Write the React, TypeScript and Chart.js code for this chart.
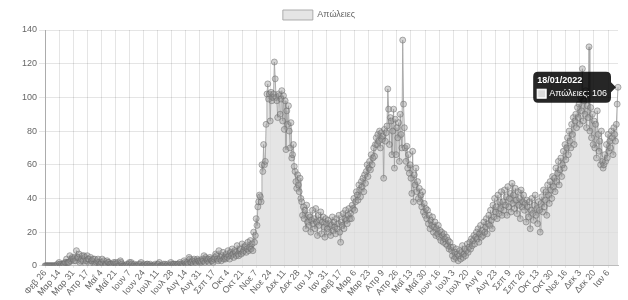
import { useEffect, useRef } from 'react';
import { Chart, registerables } from 'chart.js';

Chart.register(...registerables);

const SERIES_LABEL = 'Απώλειες';
const START_UTC = Date.UTC(2020, 1, 26);
const MONTHS = ['Ιαν', 'Φεβ', 'Μαρ', 'Απρ', 'Μαΐ', 'Ιουν', 'Ιουλ', 'Αυγ', 'Σεπ', 'Οκτ', 'Νοε', 'Δεκ'];
const LABEL_STEP = 17;
const Y_MIN = 0;
const Y_MAX = 140;
const Y_STEP = 20;

// Daily deaths, Feb 26 2020 – Dec 31 2020
const deaths2020 = [
  // Feb 26-29
  0, 0, 0, 0,
  // Mar
  0, 0, 0, 0, 0, 0, 0, 0, 0, 0, 0, 1, 0, 2, 1, 0, 1, 0, 1, 1, 2, 2, 4, 2, 2, 2, 6, 3, 4, 5, 4,
  // Apr
  3, 5, 3, 9, 5, 5, 7, 2, 3, 4, 6, 3, 6, 5, 1, 3, 6, 4, 4, 1, 5, 3, 3, 4, 1, 4, 1, 2, 3, 4,
  // May
  2, 1, 1, 2, 4, 1, 3, 0, 1, 1, 3, 2, 2, 1, 1, 1, 0, 1, 2, 1, 2, 1, 0, 2, 0, 0, 3, 2, 1, 0, 0,
  // Jun
  0, 0, 0, 1, 0, 1, 2, 0, 2, 1, 0, 0, 1, 0, 0, 0, 0, 1, 0, 1, 2, 0, 0, 0, 1, 0, 0, 1, 1, 0,
  // Jul
  0, 1, 0, 0, 0, 0, 0, 1, 0, 0, 1, 1, 2, 0, 0, 0, 0, 1, 0, 1, 0, 0, 1, 0, 0, 0, 2, 1, 0, 1, 1,
  // Aug
  0, 1, 0, 1, 1, 0, 2, 1, 0, 1, 0, 3, 2, 1, 0, 2, 1, 5, 4, 2, 2, 3, 1, 4, 3, 2, 1, 4, 3, 3, 2,
  // Sep
  3, 2, 4, 3, 6, 2, 5, 4, 3, 4, 2, 5, 4, 3, 3, 2, 4, 5, 7, 6, 4, 3, 9, 4, 5, 3, 6, 8, 4, 5,
  // Oct
  4, 7, 5, 9, 6, 4, 8, 6, 10, 7, 5, 9, 8, 6, 12, 7, 6, 9, 10, 7, 13, 8, 9, 11, 12, 8, 10, 14, 9, 11, 15,
  // Nov
  10, 13, 9, 20, 14, 18, 28, 24, 35, 38, 42, 41, 38, 60, 56, 72, 60, 62, 84, 102, 108, 99, 102, 86, 103, 98, 100, 102, 121, 111,
  // Dec
  100, 98, 88, 102, 101, 90, 99, 104, 86, 101, 81, 98, 69, 92, 84, 95, 80, 70, 85, 64, 66, 72, 59, 56, 50, 46, 54, 48, 44, 52, 40,
];

// Daily deaths, 2021
const deaths2021 = [
  // Jan
  38, 30, 35, 28, 33, 22, 36, 26, 30, 24, 29, 20, 27, 33, 25, 28, 22, 34, 26, 18, 30, 24, 27, 32, 19, 26, 29, 23, 17, 28, 25,
  // Feb
  22, 27, 20, 25, 18, 24, 29, 21, 26, 23, 19, 28, 22, 25, 30, 20, 14, 26, 24, 31, 22, 28, 33, 27, 25, 30, 34, 28,
  // Mar
  31, 28, 36, 34, 40, 33, 38, 44, 42, 39, 48, 45, 41, 50, 47, 52, 44, 54, 49, 56, 60, 53, 58, 62, 57, 66, 60, 64, 70, 65, 72,
  // Apr
  76, 72, 78, 74, 80, 70, 79, 75, 77, 52, 81, 74, 79, 83, 105, 93, 72, 88, 86, 66, 80, 93, 58, 87, 66, 82, 76, 85, 62, 90,
  // May
  78, 70, 134, 96, 82, 70, 62, 71, 58, 66, 55, 60, 52, 43, 68, 38, 54, 48, 58, 44, 50, 40, 46, 38, 42, 35, 44, 32, 37, 30, 34,
  // Jun
  28, 33, 25, 30, 22, 27, 24, 29, 20, 23, 26, 18, 22, 19, 24, 17, 21, 15, 20, 18, 14, 19, 16, 13, 17, 12, 15, 10, 14, 11,
  // Jul
  9, 6, 11, 4, 8, 5, 10, 7, 3, 6, 9, 4, 8, 12, 5, 7, 10, 6, 9, 13, 8, 11, 14, 10, 16, 12, 15, 18, 13, 17, 20,
  // Aug
  16, 22, 14, 19, 24, 17, 21, 18, 26, 20, 23, 28, 19, 25, 30, 24, 33, 27, 22, 36, 29, 40, 32, 35, 28, 42, 31, 38, 34, 44, 30,
  // Sep
  38, 33, 45, 36, 41, 30, 47, 35, 40, 43, 32, 49, 37, 42, 34, 46, 39, 31, 44, 36, 40, 28, 45, 35, 38, 42, 33, 37, 26, 39,
  // Oct
  35, 29, 38, 22, 33, 40, 31, 27, 36, 42, 30, 34, 25, 38, 33, 20, 37, 41, 32, 45, 35, 39, 44, 30, 48, 42, 37, 50, 45, 40, 53,
  // Nov
  47, 52, 44, 58, 50, 55, 62, 48, 57, 64, 53, 60, 68, 58, 72, 63, 70, 76, 66, 80, 74, 70, 84, 78, 88, 72, 86, 90, 82, 94,
  // Dec
  88, 96, 84, 100, 92, 117, 86, 98, 90, 104, 82, 95, 88, 130, 80, 94, 76, 90, 72, 86, 70, 84, 64, 92, 78, 68, 74, 60, 80, 62, 58,
];

// Daily deaths, Jan 1 – Jan 18 2022
const deaths2022 = [60, 66, 62, 72, 64, 78, 68, 74, 70, 80, 76, 66, 82, 78, 74, 84, 96, 106];

const values: number[] = [...deaths2020, ...deaths2021, ...deaths2022];

const dates: Date[] = values.map((_, i) => new Date(START_UTC + i * 86400000));
const labels: string[] = dates.map((d) => `${MONTHS[d.getUTCMonth()]} ${d.getUTCDate()}`);

const pad2 = (n: number) => (n < 10 ? '0' + n : '' + n);
const fullDate = (d: Date) => `${pad2(d.getUTCDate())}/${pad2(d.getUTCMonth() + 1)}/${d.getUTCFullYear()}`;

const FONT = "'Liberation Sans', Arial, Helvetica, sans-serif";

export default function App() {
  const ref = useRef<HTMLCanvasElement>(null);

  useEffect(() => {
    if (!ref.current) return;
    Chart.defaults.font.family = FONT;
    Chart.defaults.color = '#666';
    const chart = new Chart(ref.current, {
      type: 'line',
      data: {
        labels,
        datasets: [
          {
            label: SERIES_LABEL,
            data: values,
            fill: 'origin',
            backgroundColor: 'rgba(220,220,220,0.75)',
            borderColor: 'rgba(165,165,165,0.9)',
            borderWidth: 1,
            tension: 0,
            pointRadius: 3,
            pointBackgroundColor: 'rgba(150,150,150,0.4)',
            pointBorderColor: 'rgba(105,105,105,0.5)',
            pointBorderWidth: 1,
          },
        ],
      },
      options: {
        responsive: false,
        animation: false,
        layout: { padding: { left: 20, right: 10, top: 2, bottom: 2 } },
        plugins: {
          legend: {
            labels: {
              boxWidth: 30,
              boxHeight: 10,
              padding: 8,
              font: { size: 9, family: FONT },
              color: '#666',
            },
          },
          tooltip: {
            backgroundColor: 'rgba(0,0,0,0.85)',
            titleFont: { size: 9, weight: 'bold', family: FONT, lineHeight: 1.1 },
            bodyFont: { size: 9, family: FONT, lineHeight: 1.1 },
            titleColor: '#fff',
            bodyColor: '#fff',
            padding: { top: 4, bottom: 4, left: 4, right: 4 },
            titleMarginBottom: 3,
            caretSize: 5,
            caretPadding: 2,
            cornerRadius: 5,
            boxWidth: 9,
            boxHeight: 9,
            boxPadding: 1,
            callbacks: {
              title: (items: any[]) => fullDate(dates[items[0].dataIndex]),
              label: (item: any) => `${SERIES_LABEL}: ${item.parsed.y}`,
              labelColor: () => ({ borderColor: '#fff', backgroundColor: 'rgba(220,220,220,1)' }),
            },
          },
        },
        scales: {
          x: {
            afterBuildTicks: (scale: any) => {
              scale.ticks = scale.ticks.filter((_t: any, i: number) => i % LABEL_STEP === 0);
            },
            ticks: {
              autoSkip: false,
              minRotation: 50,
              maxRotation: 50,
              padding: 0,
              font: { size: 9, family: FONT },
              color: '#666',
            },
            grid: {
              color: 'rgba(0,0,0,0.1)',
              tickLength: 2,
            },
            border: { color: 'rgba(0,0,0,0.25)' },
          },
          y: {
            min: Y_MIN,
            max: Y_MAX,
            ticks: { stepSize: Y_STEP, padding: 2, font: { size: 9, family: FONT }, color: '#666' },
            grid: { color: 'rgba(0,0,0,0.1)', tickLength: 6 },
            border: { color: 'rgba(0,0,0,0.25)' },
          },
        },
      },
    });

    const last = values.length - 1;
    const pt: any = chart.getDatasetMeta(0).data[last];
    chart.tooltip?.setActiveElements([{ datasetIndex: 0, index: last }], { x: pt.x, y: pt.y });
    chart.update();

    return () => chart.destroy();
  }, []);

  return (
    <div style={{ position: 'fixed', left: 0, top: 0, width: 628, height: 300, background: '#fff' }}>
      <canvas ref={ref} width={628} height={300} style={{ display: 'block' }} />
    </div>
  );
}
